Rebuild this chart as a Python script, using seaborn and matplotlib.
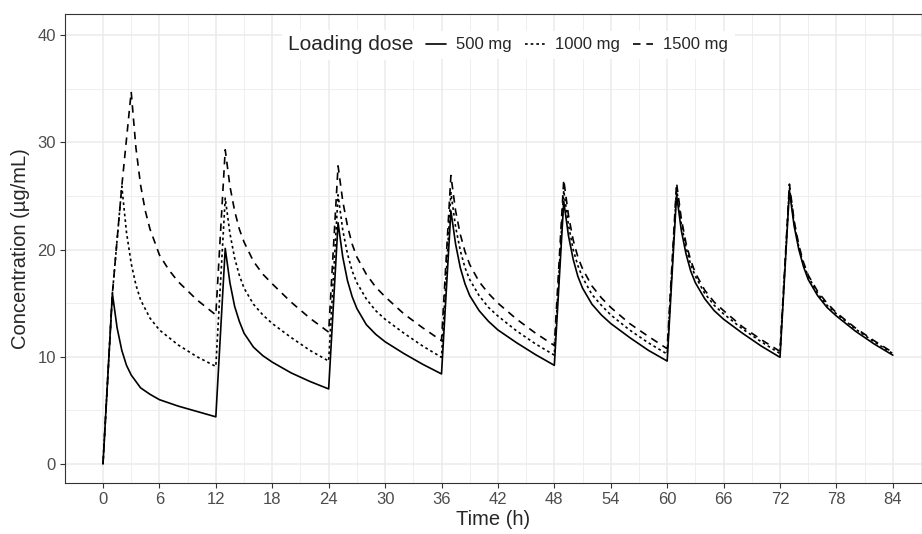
import numpy as np
import pandas as pd
import matplotlib.pyplot as plt
import seaborn as sns

sns.set_style('white')
plt.rcParams['font.family'] = ['Liberation Sans', 'DejaVu Sans']

# concentration-time profiles (time in h, conc in ug/mL)
time_500 = [0,
            1, 1.5, 2, 2.5, 3, 4, 5, 6, 8, 10, 12,
            13, 13.5, 14, 14.5, 15, 16, 17, 18, 20, 22, 24,
            25, 25.5, 26, 26.5, 27, 28, 29, 30, 32, 34, 36,
            37, 37.5, 38, 38.5, 39, 40, 41, 42, 44, 46, 48,
            49, 49.5, 50, 50.5, 51, 52, 53, 54, 56, 58, 60,
            61, 61.5, 62, 62.5, 63, 64, 65, 66, 68, 70, 72,
            73, 73.5, 74, 74.5, 75, 76, 77, 78, 80, 82, 84]
conc_500 = [0,
            15.9, 12.7, 10.6, 9.2, 8.3, 7.1, 6.5, 6.0, 5.4, 4.9, 4.4,
            20.1, 16.9, 14.7, 13.3, 12.2, 10.9, 10.1, 9.5, 8.5, 7.7, 7.0,
            22.5, 19.3, 17.1, 15.6, 14.5, 13.0, 12.1, 11.4, 10.3, 9.3, 8.4,
            23.6, 20.5, 18.3, 16.8, 15.7, 14.3, 13.3, 12.5, 11.3, 10.2, 9.2,
            24.5, 21.3, 19.1, 17.5, 16.4, 14.9, 13.9, 13.1, 11.8, 10.6, 9.6,
            25.1, 21.8, 19.6, 18.0, 16.9, 15.4, 14.3, 13.5, 12.2, 11.0, 9.95,
            25.5, 22.2, 20.0, 18.4, 17.2, 15.7, 14.6, 13.8, 12.4, 11.2, 10.15]

time_1000 = [0, 1,
             2, 2.5, 3, 3.5, 4, 5, 6, 7, 8, 10, 12,
             13, 13.5, 14, 14.5, 15, 16, 17, 18, 20, 22, 24,
             25, 25.5, 26, 26.5, 27, 28, 29, 30, 32, 34, 36,
             37, 37.5, 38, 38.5, 39, 40, 41, 42, 44, 46, 48,
             49, 49.5, 50, 50.5, 51, 52, 53, 54, 56, 58, 60,
             61, 61.5, 62, 62.5, 63, 64, 65, 66, 68, 70, 72,
             73, 73.5, 74, 74.5, 75, 76, 77, 78, 80, 82, 84]
conc_1000 = [0, 15.9,
             25.9, 21.6, 18.7, 16.7, 15.3, 13.6, 12.5, 11.8, 11.1, 10.0, 9.1,
             24.8, 21.5, 19.2, 17.6, 16.4, 14.9, 13.9, 13.1, 11.8, 10.6, 9.6,
             25.1, 21.8, 19.6, 18.0, 16.9, 15.4, 14.3, 13.5, 12.2, 11.0, 9.95,
             25.3, 22.1, 19.9, 18.3, 17.2, 15.7, 14.6, 13.8, 12.4, 11.2, 10.15,
             25.5, 22.3, 20.0, 18.5, 17.4, 15.8, 14.8, 13.9, 12.5, 11.3, 10.25,
             25.7, 22.4, 20.2, 18.6, 17.5, 15.9, 14.8, 14.0, 12.6, 11.4, 10.3,
             25.8, 22.5, 20.2, 18.6, 17.5, 15.9, 14.8, 14.0, 12.6, 11.4, 10.3]

time_1500 = [0, 1, 2,
             3, 3.5, 4, 4.5, 5, 6, 7, 8, 10, 12,
             13, 13.5, 14, 14.5, 15, 16, 17, 18, 20, 22, 24,
             25, 25.5, 26, 26.5, 27, 28, 29, 30, 32, 34, 36,
             37, 37.5, 38, 38.5, 39, 40, 41, 42, 44, 46, 48,
             49, 49.5, 50, 50.5, 51, 52, 53, 54, 56, 58, 60,
             61, 61.5, 62, 62.5, 63, 64, 65, 66, 68, 70, 72,
             73, 73.5, 74, 74.5, 75, 76, 77, 78, 80, 82, 84]
conc_1500 = [0, 15.9, 25.9,
             34.7, 29.5, 26.0, 23.6, 21.9, 19.5, 18.1, 17.0, 15.3, 13.9,
             29.3, 25.9, 23.6, 21.9, 20.7, 18.9, 17.7, 16.8, 15.1, 13.6, 12.3,
             27.8, 24.5, 22.2, 20.5, 19.3, 17.7, 16.5, 15.6, 14.0, 12.7, 11.5,
             26.9, 23.6, 21.4, 19.8, 18.6, 17.0, 15.9, 15.0, 13.5, 12.2, 11.05,
             26.5, 23.2, 20.9, 19.3, 18.2, 16.6, 15.5, 14.6, 13.1, 11.9, 10.75,
             26.2, 22.9, 20.6, 19.0, 17.8, 16.2, 15.1, 14.3, 12.8, 11.6, 10.5,
             26.1, 22.7, 20.4, 18.8, 17.6, 16.1, 15.0, 14.1, 12.7, 11.5, 10.4]

dose_labels = ['500 mg', '1000 mg', '1500 mg']

df = pd.concat([
    pd.DataFrame({'time': time_500, 'conc': conc_500, 'dose': dose_labels[0]}),
    pd.DataFrame({'time': time_1000, 'conc': conc_1000, 'dose': dose_labels[1]}),
    pd.DataFrame({'time': time_1500, 'conc': conc_1500, 'dose': dose_labels[2]}),
], ignore_index=True)

fig = plt.figure(figsize=(9.22, 5.34), dpi=100)
ax = fig.add_axes([65/922, 51/534, 857/922, 469/534])

dash_map = {'500 mg': '', '1000 mg': (1.6, 1.8), '1500 mg': (4.5, 3.5)}
sns.lineplot(data=df, x='time', y='conc', style='dose', style_order=dose_labels,
             dashes=dash_map, color='black', lw=1.2, estimator=None, sort=False, ax=ax)

ax.set_xlim(-4.04, 87.1)
ax.set_ylim(-1.77, 41.96)
ax.set_xticks(np.arange(0, 85, 6))
ax.set_xticks(np.arange(3, 88, 6), minor=True)
ax.set_yticks([0, 10, 20, 30, 40])
ax.set_yticks([5, 15, 25, 35], minor=True)
ax.grid(which='major', color='#EBEBEB', lw=1.1)
ax.grid(which='minor', color='#EBEBEB', lw=0.55)
ax.set_axisbelow(True)
ax.tick_params(which='major', length=3.5, width=0.8, color='#333333',
               labelcolor='#4D4D4D', labelsize=12, pad=3, left=True, bottom=True)
ax.tick_params(which='minor', length=0)
for s in ax.spines.values():
    s.set_color('#333333')
    s.set_linewidth(0.8)

ax.set_xlabel('Time (h)', fontsize=14.5, labelpad=2)
ax.set_ylabel('Concentration (µg/mL)', fontsize=14.5, labelpad=5)

handles, labels = ax.get_legend_handles_labels()
ax.get_legend().remove()
fig.text(413/922, 1 - 45/534, 'Loading dose', fontsize=15, ha='right', va='center',
         bbox=dict(facecolor='white', edgecolor='none', pad=4))
leg = fig.legend(handles, labels, ncol=3, loc='center left',
                 bbox_to_anchor=(411/922, 1 - 45/534), fontsize=12,
                 handlelength=1.2, handletextpad=0.6, columnspacing=0.8,
                 frameon=True, facecolor='white', edgecolor='none', framealpha=1,
                 borderpad=0.4)

fig.savefig('out.png', dpi=100)
